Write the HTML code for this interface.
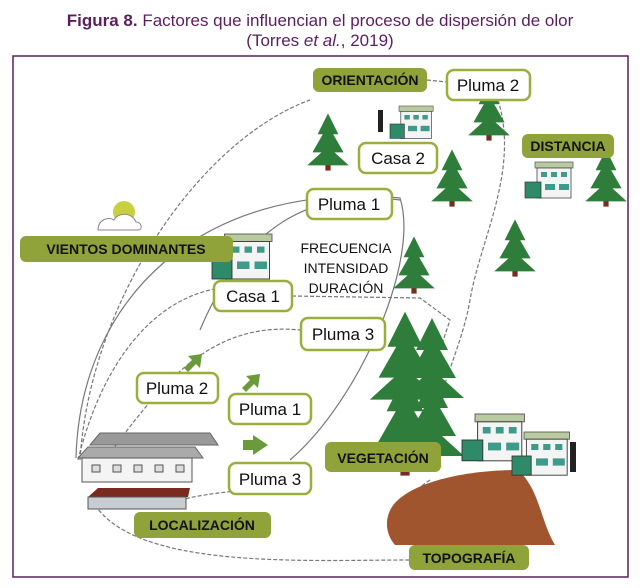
<!DOCTYPE html>
<html><head><meta charset="utf-8"><style>
html,body{margin:0;padding:0;background:#fff;}
svg{display:block;}
text{font-family:"Liberation Sans",sans-serif;}
</style></head><body>
<svg width="641" height="588" viewBox="0 0 641 588" xmlns="http://www.w3.org/2000/svg">
<defs>
<g id="tree"><rect x="-2" y="10" width="4" height="12" fill="#7a2a20"/><polygon points="0,-22 -8,-6 -4,-6 -12,8 -5,8 -16,18 16,18 5,8 12,8 4,-6 8,-6" fill="#2e7d3a"/></g>
<g id="house">
<rect x="10" y="0" width="38" height="6" fill="#b9c9a0" stroke="#555" stroke-width="0.7"/>
<rect x="12" y="6" width="34" height="30" fill="#f4f4f4" stroke="#444" stroke-width="0.8"/>
<rect x="16" y="10" width="6" height="5" fill="#3f9a8a"/><rect x="26" y="10" width="6" height="5" fill="#3f9a8a"/><rect x="36" y="10" width="6" height="5" fill="#3f9a8a"/>
<rect x="0" y="20" width="16" height="16" fill="#2f8a6a" stroke="#333" stroke-width="0.7"/>
<rect x="20" y="22" width="10" height="6" fill="#3f9a8a"/><rect x="34" y="22" width="10" height="6" fill="#3f9a8a"/>
</g>
<g id="arrow"><path d="M0,10 L8,2 L4,-2 L18,-4 L16,10 L12,6 L4,14 Z" fill="#6a9a3a"/></g>
</defs>
<text x="320" y="26" text-anchor="middle" font-size="17" fill="#5a1f5e"><tspan font-weight="bold">Figura 8.</tspan> Factores que influencian el proceso de dispersión de olor</text>
<text x="320" y="46" text-anchor="middle" font-size="17" fill="#5a1f5e">(Torres <tspan font-style="italic">et al.</tspan>, 2019)</text>
<rect x="13" y="56" width="615" height="521" fill="#fff" stroke="#5a1f5e" stroke-width="1.5"/>

<g fill="none" stroke="#777" stroke-width="1.2" stroke-dasharray="4,2">
<path d="M80,460 C90,300 200,140 310,100"/>
<path d="M78,460 C110,330 190,260 290,296"/>
<path d="M90,480 C150,400 200,320 300,330"/>
<path d="M92,500 C130,570 300,560 410,560"/>
<path d="M180,500 C220,490 260,490 300,486"/>
<path d="M292,296 L420,298 L450,320 L440,350"/>
<path d="M498,100 C520,170 480,240 470,300 C460,360 420,420 440,460"/>
<path d="M427,80 L447,82"/>
<path d="M430,480 C400,500 380,530 400,545"/>
</g>
<g fill="none" stroke="#777" stroke-width="1.2">
<path d="M76,458 C80,300 200,180 400,198 C420,260 360,400 290,460"/>
<path d="M200,330 C250,210 330,190 400,200"/>
</g>

<!-- hill -->
<path d="M398,500 C420,480 470,470 518,470 C540,490 540,520 555,545 L395,545 C382,530 386,510 398,500Z" fill="#a0552e"/>
<!-- big trees -->
<g transform="translate(405,360) scale(2.2)"><use href="#tree"/></g>
<g transform="translate(432,362) scale(2)"><use href="#tree"/></g>
<g transform="translate(405,425) scale(2.3)"><use href="#tree"/></g>
<g transform="translate(432,420) scale(2)"><use href="#tree"/></g>
<!-- small trees -->
<g transform="translate(328,142) scale(1.3)"><use href="#tree"/></g>
<g transform="translate(489,112) scale(1.3)"><use href="#tree"/></g>
<g transform="translate(452,178) scale(1.3)"><use href="#tree"/></g>
<g transform="translate(606,178) scale(1.3)"><use href="#tree"/></g>
<g transform="translate(515,248) scale(1.3)"><use href="#tree"/></g>
<g transform="translate(414,265) scale(1.3)"><use href="#tree"/></g>

<!-- houses -->
<g transform="translate(390,106) scale(0.9)"><use href="#house"/></g>
<rect x="378" y="110" width="5" height="22" fill="#222"/>
<g transform="translate(525,162) scale(1)"><use href="#house"/></g>
<g transform="translate(212,234) scale(1.25)"><use href="#house"/></g>
<g transform="translate(462,414) scale(1.3)"><use href="#house"/></g>
<g transform="translate(512,432) scale(1.2)"><use href="#house"/></g>
<rect x="570" y="442" width="6" height="30" fill="#222"/>
<!-- sun cloud -->
<circle cx="124" cy="212" r="11" fill="#c8d040"/>
<path d="M98,230 C98,220 108,216 114,220 C118,212 132,212 136,222 C142,222 143,230 138,230Z" fill="#fff" stroke="#888"/>
<!-- farm -->
<polygon points="90,445 100,433 210,433 218,445" fill="#999" stroke="#666"/>
<polygon points="78,458 88,447 195,447 203,458" fill="#aaa" stroke="#666"/>
<rect x="82" y="458" width="110" height="24" fill="#f4f4f4" stroke="#555"/>
<g fill="#ddd" stroke="#555"><rect x="92" y="465" width="8" height="7"/><rect x="113" y="465" width="8" height="7"/><rect x="134" y="465" width="8" height="7"/><rect x="155" y="465" width="8" height="7"/><rect x="176" y="465" width="8" height="7"/></g>
<polygon points="88,497 98,488 190,488 188,497" fill="#7a2a1e"/>
<rect x="88" y="497" width="98" height="12" fill="#c8cdd2" stroke="#555"/>
<!-- arrows -->
<g transform="translate(184,358)"><use href="#arrow"/></g>
<g transform="translate(242,378)"><use href="#arrow"/></g>
<path d="M243,440 L253,440 L253,435 L268,445 L253,455 L253,450 L243,450Z" fill="#6a9a3a"/>

<!-- green labels -->
<g fill="#8fa33a">
<rect x="313" y="68" width="114" height="24" rx="6"/>
<rect x="522" y="134" width="92" height="24" rx="6"/>
<rect x="20" y="236" width="213" height="26" rx="6"/>
<rect x="325" y="442" width="116" height="30" rx="6"/>
<rect x="134" y="512" width="137" height="26" rx="6"/>
<rect x="409" y="545" width="120" height="25" rx="6"/>
</g>
<g font-weight="bold" font-size="14" fill="#111" text-anchor="middle">
<text x="370" y="85">ORIENTACIÓN</text>
<text x="568" y="151">DISTANCIA</text>
<text x="126" y="254">VIENTOS DOMINANTES</text>
<text x="383" y="463">VEGETACIÓN</text>
<text x="202" y="530">LOCALIZACIÓN</text>
<text x="469" y="563">TOPOGRAFÍA</text>
</g>
<!-- white labels -->
<g fill="#fff" stroke="#9aae3c" stroke-width="2.5">
<rect x="447" y="70" width="83" height="30" rx="7"/>
<rect x="359" y="143" width="78" height="30" rx="7"/>
<rect x="307" y="189" width="85" height="30" rx="7"/>
<rect x="214" y="281" width="78" height="30" rx="7"/>
<rect x="301" y="318" width="84" height="32" rx="7"/>
<rect x="137" y="373" width="81" height="30" rx="7"/>
<rect x="229" y="394" width="82" height="30" rx="7"/>
<rect x="229" y="463" width="82" height="31" rx="7"/>
</g>
<g font-size="17" fill="#111" text-anchor="middle">
<text x="488" y="91">Pluma 2</text>
<text x="398" y="164">Casa 2</text>
<text x="349" y="210">Pluma 1</text>
<text x="253" y="302">Casa 1</text>
<text x="343" y="340">Pluma 3</text>
<text x="177" y="394">Pluma 2</text>
<text x="270" y="415">Pluma 1</text>
<text x="270" y="485">Pluma 3</text>
</g>
<g font-size="14" fill="#111" text-anchor="middle">
<text x="346" y="253">FRECUENCIA</text>
<text x="346" y="273">INTENSIDAD</text>
<text x="346" y="293">DURACIÓN</text>
</g>
</svg>
</body></html>
